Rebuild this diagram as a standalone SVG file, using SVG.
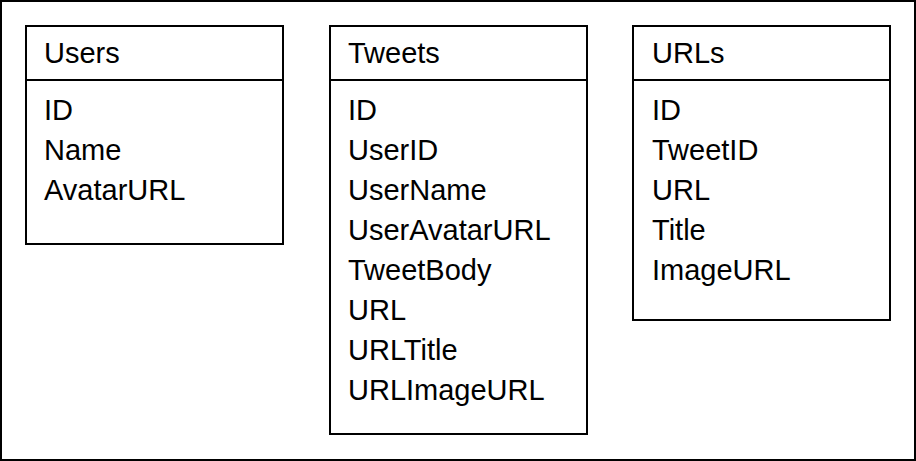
<svg xmlns="http://www.w3.org/2000/svg" width="916" height="461" viewBox="0 0 916 461">
<style>
.box{fill:#fff;stroke:#000;stroke-width:2}
.div{stroke:#000;stroke-width:2}
text{font-family:"Liberation Sans",Arial,sans-serif;font-size:29px;fill:#000}
</style>
<rect x="1" y="1" width="914" height="459" fill="#fff" stroke="#000" stroke-width="2"/>
<g id="users">
<rect class="box" x="26" y="26" width="257" height="218"/>
<line class="div" x1="26" y1="80" x2="283" y2="80"/>
<text x="44" y="63">Users</text>
<text x="44" y="120">ID</text>
<text x="44" y="160">Name</text>
<text x="44" y="200">AvatarURL</text>
</g>
<g id="tweets">
<rect class="box" x="330" y="26" width="257" height="408"/>
<line class="div" x1="330" y1="80" x2="587" y2="80"/>
<text x="348" y="63">Tweets</text>
<text x="348" y="120">ID</text>
<text x="348" y="160">UserID</text>
<text x="348" y="200">UserName</text>
<text x="348" y="240">UserAvatarURL</text>
<text x="348" y="280">TweetBody</text>
<text x="348" y="320">URL</text>
<text x="348" y="360">URLTitle</text>
<text x="348" y="400">URLImageURL</text>
</g>
<g id="urls">
<rect class="box" x="633" y="26" width="257" height="294"/>
<line class="div" x1="633" y1="80" x2="890" y2="80"/>
<text x="652" y="63">URLs</text>
<text x="652" y="120">ID</text>
<text x="652" y="160">TweetID</text>
<text x="652" y="200">URL</text>
<text x="652" y="240">Title</text>
<text x="652" y="280">ImageURL</text>
</g>
<g id="connectors"/>
</svg>
